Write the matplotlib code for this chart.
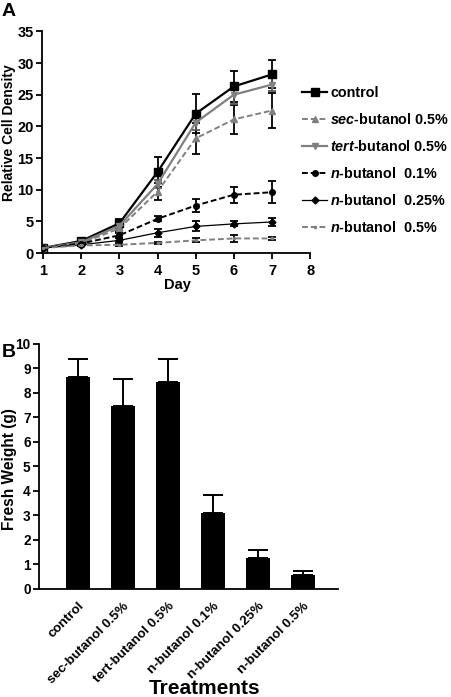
import matplotlib
matplotlib.use("Agg")
import matplotlib.pyplot as plt
import numpy as np

plt.rcParams['font.family'] = ['Liberation Sans', 'DejaVu Sans']
plt.rcParams['font.weight'] = 'bold'
plt.rcParams['mathtext.fontset'] = 'custom'
plt.rcParams['mathtext.it'] = 'Liberation Sans:italic:bold'
plt.rcParams['mathtext.rm'] = 'Liberation Sans:bold'
plt.rcParams['mathtext.bf'] = 'Liberation Sans:bold'

# Panel A: relative cell density over 7 days
days = [1, 2, 3, 4, 5, 6, 7]
control = [0.8, 1.9, 4.7, 12.8, 22.0, 26.3, 28.2]
control_err = [0.2, 0.3, 0.6, 2.4, 3.1, 2.5, 2.2]
sec_05 = [0.8, 1.5, 3.9, 9.7, 18.1, 21.1, 22.5]
sec_05_err = [0.2, 0.3, 0.5, 1.3, 2.5, 2.3, 2.8]
tert_05 = [0.8, 1.7, 4.3, 10.9, 20.6, 25.0, 26.6]
tert_05_err = [0.2, 0.3, 0.5, 0.7, 1.2, 1.5, 1.0]
n_01 = [0.8, 1.5, 2.8, 5.4, 7.5, 9.2, 9.6]
n_01_err = [0.1, 0.2, 0.4, 0.4, 1.0, 1.3, 1.7]
n_025 = [0.8, 1.3, 2.0, 3.2, 4.2, 4.6, 4.9]
n_025_err = [0.1, 0.2, 0.3, 0.6, 0.8, 0.4, 0.7]
n_05 = [0.8, 1.2, 1.3, 1.6, 2.0, 2.3, 2.3]
n_05_err = [0.1, 0.1, 0.2, 0.2, 0.3, 0.5, 0.2]

# Panel B: fresh weight per treatment
treatments = ['control', 'sec-butanol 0.5%', 'tert-butanol 0.5%',
              'n-butanol 0.1%', 'n-butanol 0.25%', 'n-butanol 0.5%']
weight = [8.65, 7.48, 8.43, 3.1, 1.25, 0.58]
weight_err = [0.75, 1.09, 0.94, 0.73, 0.35, 0.17]

fig = plt.figure(figsize=(4.52, 6.97), dpi=100)

# ---- Panel A ----
ax1 = fig.add_axes([0.093, 0.637, 0.593, 0.318])
gray = '#808080'
series = [
    (control, control_err, 'black', 'black', '-', 's', 5.5, 1.6, 'control'),
    (sec_05, sec_05_err, gray, 'black', '--', '^', 4.5, 1.4, r'$\mathit{sec}$-butanol 0.5%'),
    (tert_05, tert_05_err, gray, '#555555', '-', 'v', 4.5, 1.6, r'$\mathit{tert}$-butanol 0.5%'),
    (n_01, n_01_err, 'black', 'black', '--', 'o', 4, 1.4, r'$\mathit{n}$-butanol  0.1%'),
    (n_025, n_025_err, 'black', 'black', '-', 'D', 3.5, 0.9, r'$\mathit{n}$-butanol  0.25%'),
    (n_05, n_05_err, gray, 'black', '--', '.', 3, 1.4, r'$\mathit{n}$-butanol  0.5%'),
]
handles = []
for vals, err, col, ecol, ls, mk, ms, lw, lab in series:
    ax1.errorbar(days, vals, yerr=err, ecolor=ecol, elinewidth=1.3,
                 capsize=3, capthick=1.3, fmt='none', zorder=2)
    h, = ax1.plot(days, vals, color=col, linestyle=ls, marker=mk, markersize=ms,
                  linewidth=lw, label=lab, zorder=3,
                  dashes=(3, 1.5) if ls == '--' else (None, None))
    handles.append(h)

ax1.set_xlim(0.97, 8)
ax1.set_ylim(0, 35)
ax1.set_xticks(range(1, 9))
ax1.set_yticks(range(0, 36, 5))
ax1.spines['top'].set_visible(False)
ax1.spines['right'].set_visible(False)
for s in ['left', 'bottom']:
    ax1.spines[s].set_linewidth(1.3)
ax1.tick_params(width=1.3, length=4, labelsize=10.5, pad=2)
ax1.tick_params(axis='x', pad=4)
ax1.set_xlabel('Day', fontsize=10.5, fontweight='bold')
ax1.set_ylabel('Relative Cell Density', fontsize=10, fontweight='bold')
ax1.xaxis.set_label_coords(0.504, -0.113)
ax1.yaxis.set_label_coords(-0.098, 0.545)

fig.legend(handles=handles, loc='upper left', bbox_to_anchor=(0.668, 0.877),
           frameon=False, fontsize=10.4, handlelength=1.75, handletextpad=0.2,
           labelspacing=0.83, borderpad=0, borderaxespad=0)

fig.text(0.004, 0.996, 'A', fontsize=14, fontweight='bold', va='top')

# ---- Panel B ----
ax2 = fig.add_axes([0.0863, 0.155, 0.662, 0.3515])
x = np.arange(len(treatments))
ax2.bar(x, weight, width=0.53, color='black', zorder=2)
ax2.errorbar(x, weight, yerr=[np.zeros(len(weight)), weight_err], fmt='none',
             ecolor='black', elinewidth=1.4, capsize=7.5, capthick=1.4, zorder=1)
ax2.set_xlim(-0.87, 5.78)
ax2.set_ylim(0, 10)
ax2.set_yticks(range(0, 11))
ax2.set_xticks(x)
ax2.set_xticklabels(treatments, rotation=45, ha='right', rotation_mode='anchor',
                    fontsize=9.6, fontweight='bold')
ax2.spines['top'].set_visible(False)
ax2.spines['right'].set_visible(False)
for s in ['left', 'bottom']:
    ax2.spines[s].set_linewidth(1.3)
ax2.tick_params(axis='y', width=1.3, length=4, labelsize=9.8, pad=2)
ax2.tick_params(axis='x', length=0, pad=8)
ax2.set_ylabel('Fresh Weight (g)', fontsize=11.2, fontweight='bold')
ax2.yaxis.set_label_coords(-0.075, 0.49)
fig.text(205 / 452, 1 - 694 / 697, 'Treatments', fontsize=15, fontweight='bold',
         ha='center', va='baseline')

fig.text(0.004, 0.507, 'B', fontsize=14, fontweight='bold', va='top')

fig.savefig('out.png', dpi=100)
